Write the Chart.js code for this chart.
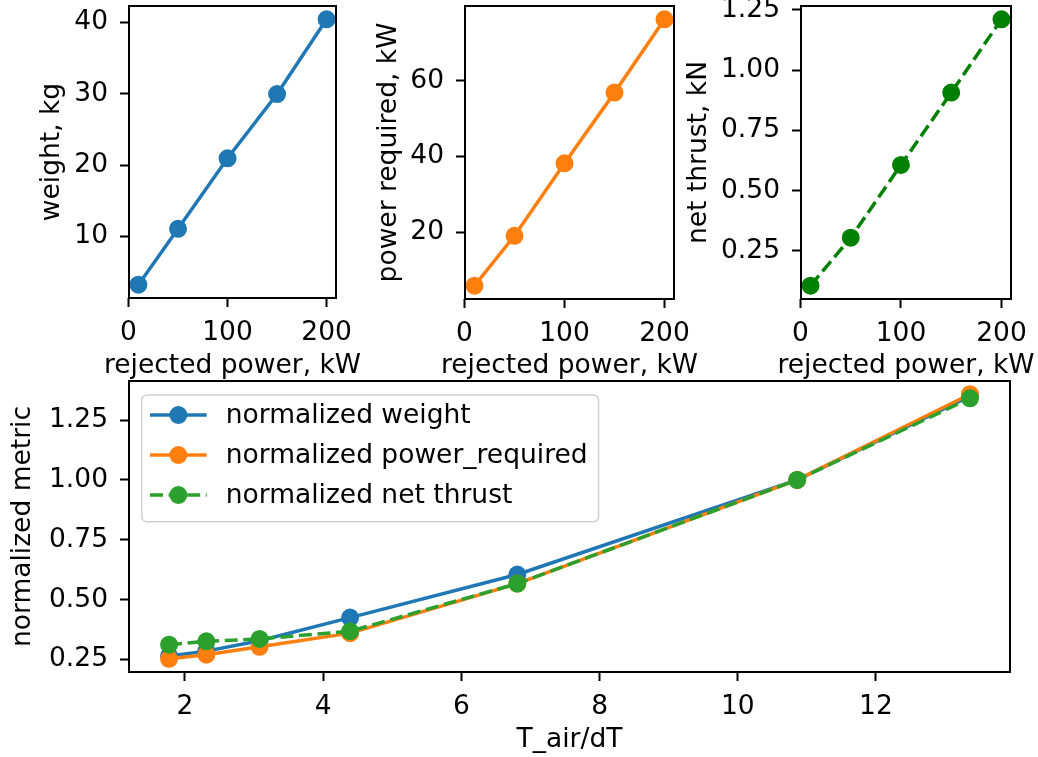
<!DOCTYPE html>
<html>
<head>
<meta charset="utf-8">
<script src="https://cdn.jsdelivr.net/npm/chart.js@4.4.1/dist/chart.umd.min.js"></script>
<style>
  html, body { margin: 0; padding: 0; background: #fff; }
  #fig { position: relative; width: 1038px; height: 757px; overflow: hidden; background: #fff; }
  #fig canvas { position: absolute; }
</style>
</head>
<body>
<div id="fig">
  <canvas id="weightChart" width="372" height="390" style="left:0px;top:-10px"></canvas>
  <canvas id="powerChart" width="340" height="390" style="left:360px;top:-10px"></canvas>
  <canvas id="thrustChart" width="358" height="390" style="left:680px;top:-10px"></canvas>
  <canvas id="normChart" width="1038" height="377" style="left:0px;top:380px"></canvas>
</div>
<script>
// ---- Data ----
const rejectedPower   = [10, 50, 100, 150, 200];
const weightKg        = [3.24, 11.08, 20.97, 29.97, 40.46];
const powerRequiredKw = [5.8, 19.0, 38.2, 56.9, 76.3];
const netThrustKn     = [0.106, 0.305, 0.607, 0.907, 1.211];

const tAirOverDt = [1.77, 2.31, 3.08, 4.39, 6.81, 10.86, 13.36];
const normWeight = [0.265, 0.285, 0.328, 0.425, 0.605, 1.0, 1.35];
const normPower  = [0.253, 0.270, 0.303, 0.360, 0.567, 1.0, 1.358];
const normThrust = [0.312, 0.326, 0.336, 0.368, 0.567, 1.0, 1.341];

const legendLabels = ['normalized weight', 'normalized power_required', 'normalized net thrust'];

// ---- Tick values ----
const powerTicks    = [0, 100, 200];
const weightTicks   = [10, 20, 30, 40];
const powerReqTicks = [20, 40, 60];
const thrustTicks   = [0.25, 0.50, 0.75, 1.00, 1.25];
const ratioTicks    = [2, 4, 6, 8, 10, 12];
const metricTicks   = [0.25, 0.50, 0.75, 1.00, 1.25];

// ---- Style ----
const FS = 26.5;
const LH = FS * 1.2;
const FONT = FS + "px 'DejaVu Sans', sans-serif";
const C_BLUE = '#1f77b4', C_ORANGE = '#ff7f0e', C_GREEN = '#2ca02c', C_G = '#008000';
const LW = 3.5, PR = 7.8, PBW = 2.4, DASH = [13, 5.6];

Chart.defaults.font.family = "'DejaVu Sans', sans-serif";
Chart.defaults.font.size = FS;
Chart.defaults.color = '#000';

// matplotlib-like autoscale: 5% margin
function lims(arr) {
  const lo = Math.min(...arr), hi = Math.max(...arr), m = (hi - lo) * 0.05;
  return { min: lo - m, max: hi + m };
}

function pts(xs, ys) { return xs.map((x, i) => ({ x: x, y: ys[i] })); }

function axis(o) {
  const horiz = o.pos === 'bottom';
  return {
    type: 'linear', position: o.pos,
    min: o.lim.min, max: o.lim.max,
    afterBuildTicks: s => { s.ticks = o.ticks.map(v => ({ value: v })); },
    afterFit: s => {
      if (horiz) s.height = o.fit; else s.width = o.fit;
      s.paddingTop = s.paddingBottom = s.paddingLeft = s.paddingRight = 0;
    },
    ticks: {
      autoSkip: false, maxRotation: 0, padding: o.tickPad,
      callback: v => o.dec ? Number(v).toFixed(o.dec) : String(v)
    },
    grid: { display: true, drawOnChartArea: false, drawTicks: true, tickLength: 9, tickWidth: 2, tickColor: '#000' },
    border: { display: false },
    title: {
      display: !!o.title, text: o.title || '',
      padding: horiz ? { top: 0, bottom: o.titlePad } : { top: o.titlePad, bottom: 0 }
    }
  };
}

// axes frame (all four spines)
const framePlugin = {
  id: 'frame',
  afterDatasetsDraw(chart) {
    const a = chart.chartArea, ctx = chart.ctx;
    ctx.save();
    ctx.strokeStyle = '#000';
    ctx.lineWidth = 2;
    ctx.strokeRect(a.left, a.top, a.right - a.left, a.bottom - a.top);
    ctx.restore();
  }
};

// x-axis title that may run wider than the axes (matplotlib does not squeeze it)
const xTitlePlugin = {
  id: 'xTitle',
  afterDraw(chart, args, opts) {
    if (!opts || !opts.text) return;
    const a = chart.chartArea, ctx = chart.ctx;
    ctx.save();
    ctx.font = FONT;
    ctx.fillStyle = '#000';
    ctx.textAlign = 'center';
    ctx.textBaseline = 'middle';
    ctx.fillText(opts.text, (a.left + a.right) / 2, opts.y);
    ctx.restore();
  }
};

// matplotlib-style legend inside the axes (upper left)
const mplLegend = {
  id: 'mplLegend',
  afterDraw(chart) {
    const a = chart.chartArea, ctx = chart.ctx;
    ctx.save();
    ctx.font = FONT;
    const tw = Math.max(...chart.data.datasets.map(ds => ctx.measureText(ds.label).width));
    const x0 = a.left + 12.7, y0 = a.top + 14, w = 84 + tw + 11, h = 126.7;
    ctx.beginPath();
    ctx.roundRect(x0, y0, w, h, 5);
    ctx.fillStyle = 'rgba(255,255,255,0.8)';
    ctx.fill();
    ctx.strokeStyle = '#d0d0d0';
    ctx.lineWidth = 1.5;
    ctx.stroke();
    chart.data.datasets.forEach((ds, i) => {
      const y = y0 + 20 + i * 40;
      const hx0 = x0 + 8.3, hx1 = x0 + 65;
      ctx.strokeStyle = ds.borderColor;
      ctx.lineWidth = LW;
      ctx.setLineDash(ds.borderDash || []);
      ctx.beginPath(); ctx.moveTo(hx0, y); ctx.lineTo(hx1, y); ctx.stroke();
      ctx.setLineDash([]);
      ctx.beginPath(); ctx.arc((hx0 + hx1) / 2, y, PR + PBW / 2, 0, Math.PI * 2);
      ctx.fillStyle = ds.borderColor; ctx.fill();
      ctx.fillStyle = '#000';
      ctx.textBaseline = 'middle';
      ctx.textAlign = 'left';
      ctx.fillText(ds.label, x0 + 84, y + 1);
    });
    ctx.restore();
  }
};

function lineSet(label, data, color, dashed, order) {
  return {
    label: label, data: data, borderColor: color, backgroundColor: color,
    borderWidth: LW, borderDash: dashed ? DASH : [],
    pointRadius: PR, pointBorderWidth: PBW, pointBackgroundColor: color, pointBorderColor: color,
    pointHoverRadius: PR, tension: 0, fill: false, clip: false, order: order || 0
  };
}

const baseOpts = (padding, scales, xTitle) => ({
  responsive: false, animation: false, devicePixelRatio: 1,
  layout: { padding: padding, autoPadding: false },
  plugins: { legend: { display: false }, tooltip: { enabled: false }, xTitle: xTitle || {} },
  scales: scales
});

const TOP_X_TITLE_Y = 376;   // canvas-relative (canvas starts at -10)

// ---- Weight vs rejected power ----
new Chart(document.getElementById('weightChart'), {
  type: 'line',
  data: { datasets: [lineSet('weight', pts(rejectedPower, weightKg), C_BLUE, false)] },
  options: baseOpts({ top: 16, right: 36, left: 0, bottom: 0 }, {
    x: axis({ pos: 'bottom', lim: lims(rejectedPower), ticks: powerTicks, fit: 82, tickPad: 10 }),
    y: axis({ pos: 'left', lim: lims(weightKg), ticks: weightTicks, fit: 129, tickPad: 12, title: 'weight, kg', titlePad: 52 - LH / 2 })
  }, { text: 'rejected power, kW', y: TOP_X_TITLE_Y }),
  plugins: [framePlugin, xTitlePlugin]
});

// ---- Power required vs rejected power ----
new Chart(document.getElementById('powerChart'), {
  type: 'line',
  data: { datasets: [lineSet('power required', pts(rejectedPower, powerRequiredKw), C_ORANGE, false)] },
  options: baseOpts({ top: 16, right: 26, left: 0, bottom: 0 }, {
    x: axis({ pos: 'bottom', lim: lims(rejectedPower), ticks: powerTicks, fit: 81, tickPad: 10 }),
    y: axis({ pos: 'left', lim: lims(powerRequiredKw), ticks: powerReqTicks, fit: 105, tickPad: 12, title: 'power required, kW', titlePad: 29 - LH / 2 })
  }, { text: 'rejected power, kW', y: TOP_X_TITLE_Y }),
  plugins: [framePlugin, xTitlePlugin]
});

// ---- Net thrust vs rejected power ----
new Chart(document.getElementById('thrustChart'), {
  type: 'line',
  data: { datasets: [lineSet('net thrust', pts(rejectedPower, netThrustKn), C_G, true)] },
  options: baseOpts({ top: 16, right: 27, left: 0, bottom: 0 }, {
    x: axis({ pos: 'bottom', lim: lims(rejectedPower), ticks: powerTicks, fit: 81, tickPad: 10 }),
    y: axis({ pos: 'left', lim: lims(netThrustKn), ticks: thrustTicks, dec: 2, fit: 121, tickPad: 12, title: 'net thrust, kN', titlePad: 19 - LH / 2 })
  }, { text: 'rejected power, kW', y: TOP_X_TITLE_Y }),
  plugins: [framePlugin, xTitlePlugin]
});

// ---- Normalized metrics vs T_air/dT ----
new Chart(document.getElementById('normChart'), {
  type: 'line',
  data: {
    datasets: [
      lineSet(legendLabels[0], pts(tAirOverDt, normWeight), C_BLUE, false, 2),
      lineSet(legendLabels[1], pts(tAirOverDt, normPower), C_ORANGE, false, 1),
      lineSet(legendLabels[2], pts(tAirOverDt, normThrust), C_GREEN, true, 0)
    ]
  },
  options: baseOpts({ top: 1, right: 28, left: 0, bottom: 0 }, {
    x: axis({ pos: 'bottom', lim: lims(tAirOverDt), ticks: ratioTicks, fit: 85, tickPad: 10, title: 'T_air/dT', titlePad: 17 - LH / 2 }),
    y: axis({ pos: 'left', lim: lims(normWeight.concat(normPower, normThrust)), ticks: metricTicks, dec: 2, fit: 129, tickPad: 12, title: 'normalized metric', titlePad: 23 - LH / 2 })
  }),
  plugins: [framePlugin, mplLegend]
});
</script>
</body>
</html>
